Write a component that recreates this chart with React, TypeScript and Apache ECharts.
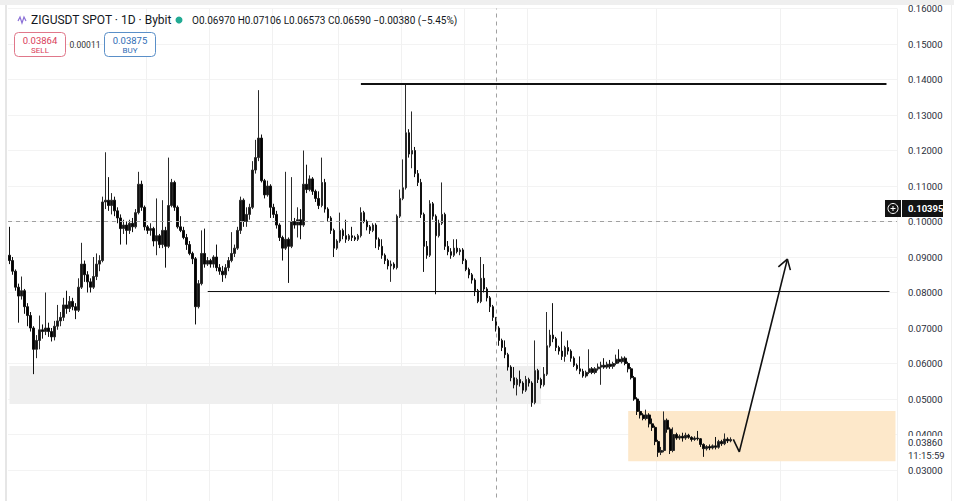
import React, { useEffect, useRef } from "react";
import * as echarts from "echarts";

type C = [number, number, number, number]; // open, close, low, high

const legOne: C[] = [
  [0.0905,0.0890,0.0880,0.0985],[0.0890,0.0860,0.0850,0.0900],[0.0860,0.0815,0.0805,0.0865],[0.0815,0.0790,0.0715,0.0825],
  [0.0790,0.0805,0.0780,0.0845],[0.0805,0.0760,0.0740,0.0810],[0.0760,0.0735,0.0705,0.0770],[0.0735,0.0700,0.0690,0.0745],
  [0.0700,0.0640,0.0570,0.0705],[0.0640,0.0665,0.0615,0.0680],[0.0665,0.0695,0.0640,0.0735],[0.0695,0.0690,0.0670,0.0710],
  [0.0690,0.0700,0.0680,0.0800],[0.0700,0.0690,0.0675,0.0715],[0.0690,0.0675,0.0662,0.0700],[0.0675,0.0705,0.0665,0.0720],
  [0.0705,0.0720,0.0695,0.0765],[0.0720,0.0730,0.0705,0.0745],[0.0730,0.0765,0.0720,0.0785],[0.0765,0.0755,0.0740,0.0805],
  [0.0755,0.0775,0.0745,0.0790],[0.0775,0.0760,0.0750,0.0785],[0.0760,0.0750,0.0725,0.0770],[0.0750,0.0815,0.0745,0.0840],
  [0.0815,0.0880,0.0810,0.0940],[0.0880,0.0850,0.0830,0.0890],[0.0850,0.0830,0.0800,0.0860],[0.0830,0.0815,0.0800,0.0840],
  [0.0815,0.0845,0.0810,0.0900],[0.0845,0.0880,0.0835,0.0910],[0.0880,0.0890,0.0860,0.0905],[0.0890,0.1055,0.0885,0.1070],
  [0.1055,0.1060,0.1035,0.1195],[0.1060,0.1045,0.1030,0.1125],[0.1045,0.1060,0.1020,0.1080],[0.1060,0.1030,0.1015,0.1070],
  [0.1030,0.1010,0.0995,0.1040],[0.1010,0.0980,0.0935,0.1020],[0.0980,0.0990,0.0965,0.1005],[0.0990,0.0975,0.0935,0.1000],
  [0.0975,0.0995,0.0965,0.1005],[0.0995,0.0985,0.0970,0.1010],[0.0985,0.1025,0.0980,0.1035],[0.1025,0.1105,0.1020,0.1140],
  [0.1105,0.1040,0.1030,0.1115],[0.1040,0.0985,0.0975,0.1045],[0.0985,0.0975,0.0965,0.0990],[0.0975,0.0980,0.0960,0.0995],
  [0.0980,0.0945,0.0930,0.0985],[0.0945,0.0960,0.0905,0.1065],[0.0960,0.0935,0.0925,0.0965],[0.0935,0.0975,0.0925,0.1060],
  [0.0975,0.0930,0.0870,0.0985],[0.0930,0.1045,0.0925,0.1180],[0.1045,0.1110,0.1040,0.1120],[0.1110,0.1040,0.1030,0.1115],
  [0.1040,0.0985,0.0980,0.1045],[0.0985,0.0975,0.0970,0.1015],[0.0975,0.0955,0.0950,0.0985],[0.0955,0.0935,0.0920,0.0965],
];

const legTwo: C[] = [
  [0.0935,0.0910,0.0905,0.0945],[0.0910,0.0895,0.0880,0.0915],[0.0895,0.0760,0.0710,0.0900],[0.0760,0.0825,0.0755,0.0835],
  [0.0825,0.0910,0.0820,0.0975],[0.0910,0.0880,0.0870,0.0980],[0.0880,0.0890,0.0875,0.0900],[0.0890,0.0880,0.0870,0.0895],
  [0.0880,0.0900,0.0870,0.0905],[0.0900,0.0870,0.0860,0.0935],[0.0870,0.0860,0.0850,0.0880],[0.0860,0.0850,0.0830,0.0875],
  [0.0850,0.0870,0.0840,0.0880],[0.0870,0.0890,0.0860,0.0900],[0.0890,0.0910,0.0885,0.0970],[0.0910,0.0925,0.0900,0.0935],
  [0.0925,0.0975,0.0920,0.0985],[0.0975,0.1060,0.0965,0.1070],[0.1060,0.1000,0.0985,0.1065],[0.1000,0.1020,0.0985,0.1040],
  [0.1020,0.1040,0.1005,0.1050],[0.1040,0.1145,0.1035,0.1170],[0.1145,0.1180,0.1135,0.1230],[0.1180,0.1235,0.1170,0.1370],
  [0.1235,0.1115,0.1110,0.1245],[0.1115,0.1075,0.1065,0.1120],[0.1075,0.1100,0.1070,0.1115],[0.1100,0.1040,0.1010,0.1105],
  [0.1040,0.1020,0.1010,0.1050],[0.1020,0.0990,0.0980,0.1030],[0.0990,0.0955,0.0945,0.0995],[0.0955,0.0925,0.0890,0.0960],
  [0.0925,0.0950,0.0920,0.1140],[0.0950,0.0930,0.0827,0.0955],[0.0930,0.1000,0.0925,0.1125],[0.1000,0.0990,0.0980,0.1010],
  [0.0990,0.1005,0.0955,0.1040],[0.1005,0.0990,0.0950,0.1035],[0.0990,0.1105,0.0985,0.1200],[0.1105,0.1090,0.1080,0.1160],
  [0.1090,0.1120,0.1085,0.1130],[0.1120,0.1085,0.1075,0.1125],[0.1085,0.1065,0.1055,0.1090],[0.1065,0.1045,0.1035,0.1085],
  [0.1045,0.1110,0.1040,0.1180],[0.1110,0.1035,0.1025,0.1120],[0.1035,0.1010,0.1000,0.1040],[0.1010,0.0975,0.0965,0.1015],
  [0.0975,0.0925,0.0900,0.0980],[0.0925,0.0945,0.0920,0.0950],[0.0945,0.0975,0.0940,0.1025],[0.0975,0.0960,0.0950,0.0980],
  [0.0960,0.0950,0.0940,0.1005],[0.0950,0.0960,0.0945,0.0965],[0.0960,0.0955,0.0945,0.0985],[0.0955,0.0950,0.0945,0.0960],
  [0.0950,0.0960,0.0945,0.0965],[0.0960,0.1025,0.0955,0.1040],[0.1025,0.1000,0.0995,0.1030],[0.1000,0.0985,0.0975,0.1005],
];

const legThree: C[] = [
  [0.0985,0.0975,0.0965,0.0990],[0.0975,0.0990,0.0970,0.0995],[0.0990,0.0950,0.0925,0.0995],[0.0950,0.0930,0.0920,0.0955],
  [0.0930,0.0905,0.0895,0.0950],[0.0905,0.0890,0.0880,0.0910],[0.0890,0.0875,0.0865,0.0895],[0.0875,0.0880,0.0830,0.0890],
  [0.0880,0.0870,0.0865,0.0885],[0.0870,0.1015,0.0865,0.1020],[0.1015,0.1065,0.1010,0.1090],[0.1065,0.1095,0.1060,0.1175],
  [0.1095,0.1250,0.1090,0.1387],[0.1250,0.1190,0.1180,0.1260],[0.1190,0.1200,0.1150,0.1310],[0.1200,0.1135,0.1125,0.1210],
  [0.1135,0.1110,0.1100,0.1145],[0.1110,0.1020,0.1010,0.1120],[0.1020,0.0930,0.0858,0.1025],[0.0930,0.0905,0.0895,0.0945],
  [0.0905,0.1050,0.0900,0.1060],[0.1050,0.1015,0.1005,0.1055],[0.1015,0.0960,0.0795,0.1020],[0.0960,0.0995,0.0955,0.1005],
  [0.0995,0.1020,0.0990,0.1110],[0.1020,0.0930,0.0920,0.1025],[0.0930,0.0915,0.0905,0.0945],[0.0915,0.0905,0.0895,0.0925],
  [0.0905,0.0925,0.0900,0.0950],[0.0925,0.0915,0.0910,0.0950],[0.0915,0.0920,0.0905,0.0925],[0.0920,0.0890,0.0880,0.0925],
  [0.0890,0.0865,0.0860,0.0895],[0.0865,0.0850,0.0840,0.0870],[0.0850,0.0835,0.0825,0.0855],[0.0835,0.0805,0.0790,0.0840],
  [0.0805,0.0775,0.0770,0.0810],[0.0775,0.0840,0.0770,0.0900],[0.0840,0.0810,0.0800,0.0880],[0.0810,0.0785,0.0775,0.0815],
  [0.0785,0.0760,0.0745,0.0790],[0.0760,0.0730,0.0720,0.0765],[0.0730,0.0700,0.0690,0.0730],[0.0700,0.0665,0.0650,0.0705],
  [0.0665,0.0645,0.0635,0.0670],[0.0645,0.0625,0.0615,0.0665],[0.0625,0.0590,0.0580,0.0630],[0.0590,0.0560,0.0550,0.0595],
  [0.0560,0.0540,0.0530,0.0590],[0.0540,0.0555,0.0510,0.0560],[0.0555,0.0545,0.0535,0.0580],[0.0545,0.0525,0.0515,0.0550],
  [0.0525,0.0555,0.0520,0.0565],[0.0555,0.0545,0.0535,0.0560],[0.0545,0.0490,0.0478,0.0550],[0.0490,0.0580,0.0485,0.0665],
  [0.0580,0.0555,0.0545,0.0585],[0.0555,0.0540,0.0530,0.0560],[0.0540,0.0570,0.0535,0.0590],[0.0570,0.0650,0.0565,0.0745],
];

const legFour: C[] = [
  [0.0650,0.0680,0.0645,0.0695],[0.0680,0.0670,0.0660,0.0770],[0.0670,0.0645,0.0635,0.0675],[0.0645,0.0635,0.0625,0.0650],
  [0.0635,0.0620,0.0610,0.0690],[0.0620,0.0645,0.0605,0.0650],[0.0645,0.0635,0.0625,0.0665],[0.0635,0.0615,0.0605,0.0640],
  [0.0615,0.0595,0.0590,0.0620],[0.0595,0.0585,0.0580,0.0600],[0.0585,0.0578,0.0570,0.0620],[0.0578,0.0565,0.0560,0.0585],
  [0.0565,0.0575,0.0560,0.0580],[0.0575,0.0585,0.0570,0.0640],[0.0585,0.0575,0.0570,0.0590],[0.0575,0.0585,0.0570,0.0590],
  [0.0585,0.0590,0.0580,0.0600],[0.0590,0.0595,0.0540,0.0605],[0.0595,0.0590,0.0585,0.0615],[0.0590,0.0598,0.0585,0.0605],
  [0.0598,0.0592,0.0585,0.0610],[0.0592,0.0600,0.0585,0.0605],[0.0600,0.0612,0.0595,0.0625],[0.0612,0.0605,0.0600,0.0640],
  [0.0605,0.0615,0.0600,0.0620],[0.0615,0.0600,0.0595,0.0620],[0.0600,0.0585,0.0575,0.0605],[0.0585,0.0560,0.0555,0.0590],
  [0.0560,0.0500,0.0495,0.0565],[0.0500,0.0465,0.0455,0.0505],[0.0465,0.0455,0.0445,0.0495],[0.0455,0.0445,0.0440,0.0460],
  [0.0445,0.0455,0.0440,0.0470],[0.0455,0.0430,0.0420,0.0460],[0.0430,0.0420,0.0410,0.0445],[0.0420,0.0380,0.0370,0.0425],
  [0.0380,0.0350,0.0337,0.0385],[0.0350,0.0355,0.0342,0.0365],[0.0355,0.0440,0.0350,0.0465],[0.0440,0.0415,0.0405,0.0445],
  [0.0415,0.0355,0.0345,0.0420],[0.0355,0.0400,0.0350,0.0420],[0.0400,0.0390,0.0385,0.0405],[0.0390,0.0395,0.0385,0.0400],
  [0.0395,0.0390,0.0380,0.0405],[0.0390,0.0398,0.0385,0.0405],[0.0398,0.0392,0.0388,0.0402],[0.0392,0.0386,0.0380,0.0395],
  [0.0386,0.0390,0.0382,0.0395],[0.0390,0.0388,0.0383,0.0410],[0.0388,0.0372,0.0365,0.0390],[0.0372,0.0360,0.0337,0.0375],
  [0.0360,0.0366,0.0355,0.0370],[0.0366,0.0362,0.0356,0.0372],[0.0362,0.0368,0.0358,0.0372],[0.0368,0.0364,0.0358,0.0393],
  [0.0364,0.0380,0.0360,0.0385],[0.0380,0.0374,0.0368,0.0385],[0.0374,0.0387,0.0370,0.0403],[0.0387,0.0382,0.0376,0.0392],
  [0.0382,0.0386,0.0378,0.0392],
];

const TOTAL_SLOTS = 296;
const priceMin = 0.02;
const priceMax = 0.16;
const priceStep = 0.01;

// annotations (category index, price)
const resistanceLine: [number, number][] = [[117, 0.1387], [292, 0.1387]];
const supportLine: [number, number][] = [[66, 0.0804], [293, 0.0804]];
const grayZone: [number, number][] = [[0, 0.0593], [177, 0.0486]];
const orangeZone: [number, number][] = [[206, 0.0466], [295, 0.0325]];
const crosshairPrice = 0.10395;
const crosshairIndex = 162;
const projectionPath: [number, number][] = [[241, 0.0386], [243, 0.0351], [259, 0.0894]];
const arrowHead: [number, number][] = [[256, 0.0872], [259, 0.0894], [260, 0.0863]];
const monthGridIdx = [46, 67, 88, 110, 131, 152, 173, 216, 257];

const headerTitle = "ZIGUSDT SPOT · 1D · Bybit";
const headerOhlc = "O0.06970 H0.07106 L0.06573 C0.06590 −0.00380 (−5.45%)";
const sellPrice = "0.03864";
const buyPrice = "0.03875";
const spread = "0.00011";
const currentPrice = "0.10395";
const countdownPrice = "0.03860";
const countdownTime = "11:15:59";

const FONT = "Roboto, 'Liberation Sans', sans-serif";

export default function App() {
  const ref = useRef<HTMLDivElement>(null);
  useEffect(() => {
    if (!ref.current) return;
    const chart = echarts.init(ref.current, undefined, { renderer: "svg" });
    const candles = [...legOne, ...legTwo, ...legThree, ...legFour];
    const cats = Array.from({ length: TOTAL_SLOTS }, (_, i) => String(i));
    const gridSet = new Set(monthGridIdx);
    const txt = (x: number, y: number, text: string, size: number, fill: string, align = "left", weight = "normal") => ({
      type: "text", x, y, z: 100,
      style: { text, fontSize: size, fill, fontFamily: FONT, align, verticalAlign: "middle", fontWeight: weight },
    });
    chart.setOption({
      animation: false,
      backgroundColor: "#ffffff",
      grid: { left: 8, right: 57, top: 8.5, height: 497, containLabel: false, outerBoundsMode: "none" },
      xAxis: {
        type: "category",
        data: cats,
        boundaryGap: true,
        axisLine: { show: false },
        axisTick: { show: false },
        axisLabel: { show: false },
        splitLine: {
          show: true,
          interval: (idx: number) => gridSet.has(idx),
          lineStyle: { color: "#f1f1f1", width: 1 },
        },
      },
      yAxis: {
        type: "value",
        position: "right",
        min: priceMin,
        max: priceMax,
        interval: priceStep,
        axisLine: { show: false },
        axisTick: { show: false },
        axisLabel: {
          color: "#2a2e39",
          fontSize: 9.5,
          fontFamily: FONT,
          margin: 11,
          showMinLabel: false,
          formatter: (v: number) => v.toFixed(5),
        },
        splitLine: { show: true, lineStyle: { color: "#f3f3f3", width: 1 } },
      },
      series: [
        {
          type: "line",
          data: [],
          z: 1,
          silent: true,
          markArea: {
            silent: true,
            data: [
              [{ coord: grayZone[0], itemStyle: { color: "#efefef" } }, { coord: grayZone[1] }],
              [{ coord: orangeZone[0], itemStyle: { color: "#fde8ca" } }, { coord: orangeZone[1] }],
            ],
          },
          markLine: {
            silent: true,
            symbol: "none",
            label: { show: false },
            lineStyle: { color: "#a0a0a0", type: [4, 4], width: 1 },
            data: [{ yAxis: crosshairPrice }, { xAxis: crosshairIndex }],
          },
        },
        {
          type: "candlestick",
          data: candles,
          z: 3,
          barWidth: 2.2,
          itemStyle: {
            color: "#111111",
            color0: "#000000",
            borderColor: "#2a2a2a",
            borderColor0: "#111111",
            borderWidth: 1,
          },
          markLine: {
            silent: true,
            symbol: "none",
            label: { show: false },
            data: [
              [{ coord: resistanceLine[0], lineStyle: { color: "#111", width: 2, type: "solid" } }, { coord: resistanceLine[1] }],
              [{ coord: supportLine[0], lineStyle: { color: "#111", width: 1.2, type: "solid" } }, { coord: supportLine[1] }],
            ],
          },
        },
        {
          type: "line",
          data: projectionPath,
          z: 4,
          symbol: "none",
          silent: true,
          lineStyle: { color: "#111", width: 1.6 },
        },
        {
          type: "line",
          data: arrowHead,
          z: 4,
          symbol: "none",
          silent: true,
          lineStyle: { color: "#111", width: 1.6 },
        },
      ],
      graphic: [
        { type: "rect", z: 100, shape: { x: 0, y: 0, width: 954, height: 5 }, style: { fill: "#efefef" } },
        { type: "rect", z: 100, shape: { x: 5, y: 5, width: 2, height: 496 }, style: { fill: "#e6e6e6" } },
        { type: "rect", z: 100, shape: { x: 951, y: 5, width: 1, height: 496 }, style: { fill: "#eeeeee" } },
        {
          type: "polyline", z: 100,
          shape: { points: [[18, 21], [20, 17], [22, 23], [24, 17], [26, 21]] },
          style: { stroke: "#8a6fd6", lineWidth: 1.2, fill: "none" },
        },
        txt(31, 20, headerTitle, 12, "#131722"),
        { type: "circle", z: 100, shape: { cx: 179, cy: 20, r: 3.5 }, style: { fill: "#22ab94" } },
        txt(192, 20, headerOhlc, 10, "#131722"),
        { type: "rect", z: 100, shape: { x: 14.5, y: 32.5, width: 51, height: 24, r: 4 }, style: { fill: "#ffffff", stroke: "#e0778a", lineWidth: 1 } },
        txt(40, 40, sellPrice, 9.5, "#d9405a", "center"),
        txt(40, 50.5, "SELL", 8, "#d9405a", "center"),
        txt(85, 44.5, spread, 8.5, "#333333", "center"),
        { type: "rect", z: 100, shape: { x: 104.5, y: 32.5, width: 51, height: 24, r: 4 }, style: { fill: "#ffffff", stroke: "#5a8fc8", lineWidth: 1 } },
        txt(130, 40, buyPrice, 9.5, "#2f6db5", "center"),
        txt(130, 50.5, "BUY", 8, "#2f6db5", "center"),
        { type: "rect", z: 100, shape: { x: 885, y: 200, width: 16, height: 17 }, style: { fill: "#131313" } },
        { type: "circle", z: 101, shape: { cx: 893, cy: 208.5, r: 5 }, style: { fill: "none", stroke: "#ffffff", lineWidth: 1 } },
        { type: "line", z: 101, shape: { x1: 890.5, y1: 208.5, x2: 895.5, y2: 208.5 }, style: { stroke: "#ffffff", lineWidth: 1 } },
        { type: "line", z: 101, shape: { x1: 893, y1: 206, x2: 893, y2: 211 }, style: { stroke: "#ffffff", lineWidth: 1 } },
        { type: "rect", z: 100, shape: { x: 902, y: 200, width: 41, height: 17 }, style: { fill: "#131313" } },
        txt(908, 208.5, currentPrice, 9.5, "#ffffff", "left", "bold"),
        { type: "rect", z: 100, shape: { x: 900, y: 436, width: 48, height: 26 }, style: { fill: "#ffffff" } },
        txt(908, 442, countdownPrice, 9.5, "#2a2e39"),
        txt(908, 455, countdownTime, 9.5, "#2a2e39"),
      ],
    });
    return () => chart.dispose();
  }, []);
  return (
    <div
      ref={ref}
      style={{ position: "absolute", left: 0, top: 0, width: 954, height: 501, background: "#fff" }}
    />
  );
}
